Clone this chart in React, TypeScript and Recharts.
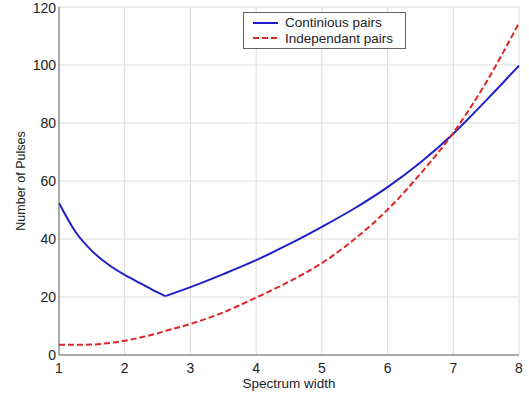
import React from 'react';
import { LineChart, Line, XAxis, YAxis, CartesianGrid, Legend } from 'recharts';

// spectrum width (x) and number of pulses for each method
const widths = [1, 1.25, 1.5, 1.75, 2, 2.25, 2.5, 2.62, 3, 3.5, 4, 4.5, 5, 5.5, 6, 6.5, 7, 7.5, 8];
const continiousPairs = [52.4, 42.5, 35.9, 31.2, 27.6, 24.6, 21.6, 20.3, 23.4, 27.9, 32.7, 38.2, 44.2, 50.6, 57.9, 66.4, 76.3, 87.8, 99.8];
const independantPairs = [3.5, 3.5, 3.6, 4.1, 4.9, 6.1, 7.5, 8.3, 10.7, 14.7, 19.8, 25.3, 31.7, 40, 50.1, 62.5, 76.6, 94, 114.5];

const xTicks = [1, 2, 3, 4, 5, 6, 7, 8];
const yTicks = [0, 20, 40, 60, 80, 100, 120];

// the continuous curve has a sharp corner at its minimum, so it is drawn as two smooth pieces
const minIdx = continiousPairs.indexOf(Math.min(...continiousPairs));

const data = widths.map((w, i) => ({
  width: w,
  contLeft: i <= minIdx ? continiousPairs[i] : null,
  contRight: i >= minIdx ? continiousPairs[i] : null,
  independant: independantPairs[i],
}));

const FONT = '"Liberation Sans", Arial, sans-serif';
const FRAME = '#666';
const BLUE = '#1f1fc8';

const LegendBox = ({ payload }: any) => (
  <div
    style={{
      border: `1px solid ${FRAME}`,
      background: '#fff',
      padding: '2px 12px 2px 8px',
      fontFamily: FONT,
      fontSize: 13.5,
      color: '#222',
      lineHeight: '15.5px',
    }}
  >
    {(payload || []).filter((p: any) => p.type !== 'none').map((p: any) => (
      <div key={p.value} style={{ display: 'flex', alignItems: 'center' }}>
        <svg width={33} height={10}>
          <line
            x1={1}
            y1={5}
            x2={26}
            y2={5}
            stroke={p.color}
            strokeWidth={2}
            strokeDasharray={p.payload && p.payload.strokeDasharray}
          />
        </svg>
        <span>{p.value}</span>
      </div>
    ))}
  </div>
);

export default function App() {
  return (
    <div style={{ position: 'absolute', left: 0, top: 0, background: '#fff' }}>
      <LineChart
        width={529}
        height={401}
        data={data}
        margin={{ top: 7, right: 10, left: 0, bottom: 0 }}
        style={{ fontFamily: FONT }}
      >
        <CartesianGrid stroke="#dcdcdc" strokeWidth={1} />
        <XAxis
          dataKey="width"
          type="number"
          domain={[1, 8]}
          ticks={xTicks}
          height={46}
          tickLine={false}
          tickSize={0}
          tickMargin={8}
          axisLine={{ stroke: FRAME }}
          tick={{ fontSize: 14, fill: '#222' }}
          label={{ value: 'Spectrum width', position: 'insideBottom', offset: 13, fontSize: 13.5, fill: '#222' }}
        />
        <XAxis xAxisId="top" orientation="top" dataKey="width" type="number" domain={[1, 8]} height={0} tick={false} tickLine={false} axisLine={{ stroke: FRAME }} />
        <YAxis
          type="number"
          domain={[0, 120]}
          ticks={yTicks}
          width={59}
          tickLine={false}
          tickSize={0}
          tickMargin={3}
          axisLine={{ stroke: FRAME }}
          tick={{ fontSize: 14, fill: '#222' }}
          label={{ value: 'Number of Pulses', angle: -90, position: 'insideLeft', offset: 21, fontSize: 12.5, fill: '#222', style: { textAnchor: 'middle' } }}
        />
        <YAxis yAxisId="right" orientation="right" domain={[0, 120]} width={0} tick={false} tickLine={false} axisLine={{ stroke: FRAME }} />
        <Legend
          layout="horizontal"
          verticalAlign="middle"
          align="center"
          content={<LegendBox />}
          wrapperStyle={{ position: 'absolute', left: 243, top: 12, width: 'auto' }}
        />
        <Line
          type="monotone"
          dataKey="contLeft"
          name="Continious pairs"
          stroke={BLUE}
          strokeWidth={2}
          dot={false}
          isAnimationActive={false}
        />
        <Line
          type="monotone"
          dataKey="contRight"
          name="Continious pairs (right)"
          legendType="none"
          stroke={BLUE}
          strokeWidth={2}
          dot={false}
          isAnimationActive={false}
        />
        <Line
          type="monotone"
          dataKey="independant"
          name="Independant pairs"
          stroke="#e02424"
          strokeWidth={2}
          strokeDasharray="6 3"
          dot={false}
          isAnimationActive={false}
        />
      </LineChart>
    </div>
  );
}
